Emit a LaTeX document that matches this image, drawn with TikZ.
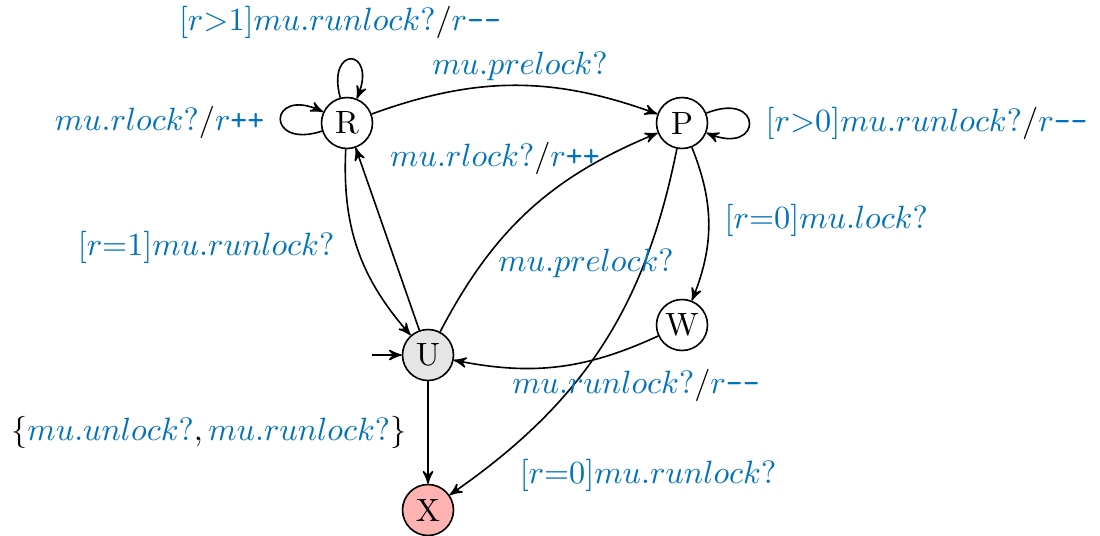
\documentclass[tikz,border=0pt]{standalone}
\usetikzlibrary{automata,arrows}
\definecolor{lblue}{RGB}{0,114,189}
\newcommand{\bl}[1]{\textcolor{lblue}{#1}}
\newcommand{\dec}{\bl{$r$\texttt{-{}-}}}
\newcommand{\inc}{\bl{$r$\texttt{++}}}
\begin{document}
\begin{tikzpicture}[x=0.31pt,y=-0.31pt,>=stealth',
  st/.style={circle,draw,minimum size=15.8pt,inner sep=0pt,line width=0.5pt},
  lbl/.style={inner sep=0pt},
  tr/.style={->,line width=0.5pt},
  selfloop/.style={looseness=8,min distance=17pt}]
\useasboundingbox (0,0) rectangle (1100,535);

% states
\node[st] (R) at (347,123) {R};
\node[st] (P) at (682,123) {P};
\node[st,fill=black!10] (U) at (428,355) {U};
\node[st] (W) at (682,325) {W};
\node[st,fill=red!30] (X) at (428,510) {X};
\coordinate (init) at (372,355);

% transitions
\draw[tr] (init) -- (U);
\draw[tr] (R) to[selfloop,out=105,in=68] (R);
\draw[tr] (R) to[selfloop,out=198,in=155] (R);
\draw[tr] (P) to[selfloop,out=22,in=-22] (P);
\draw[tr] (R) to[bend left=20] (P);
\draw[tr] (U) -- (R);
\draw[tr] (R) to[bend right=22] (U);
\draw[tr] (U) to[bend left=20] (P);
\draw[tr] (P) to[bend left=22] (W);
\draw[tr] (W) to[bend left=18] (U);
\draw[tr] (P) to[bend left=22] (X);
\draw[tr] (U) -- (X);

% labels
\node[lbl] (l1) at (340,22) {\bl{$[r{>}1]mu.runlock?$}/\dec};
\node[lbl] (l2) at (520,66) {\bl{$mu.prelock?$}};
\node[lbl,anchor=east] (l3) at (265,122) {\bl{$mu.rlock?$}/\inc};
\node[lbl,anchor=west] (l4) at (765,123) {\bl{$[r{>}0]mu.runlock?$}/\dec};
\node[lbl] (l5) at (495,158) {\bl{$mu.rlock?$}/\inc};
\node[lbl,anchor=west] (l6) at (724,220) {\bl{$[r{=}0]mu.lock?$}};
\node[lbl,anchor=east] (l7) at (335,247) {\bl{$[r{=}1]mu.runlock?$}};
\node[lbl] (l8) at (586,263) {\bl{$mu.prelock?$}};
\node[lbl] (l9) at (636,385) {\bl{$mu.runlock?$}/\dec};
\node[lbl,anchor=east] (l10) at (407,432) {$\{\textcolor{lblue}{mu.unlock?},\textcolor{lblue}{mu.runlock?}\}$};
\node[lbl] (l11) at (648,475) {\bl{$[r{=}0]mu.runlock?$}};
\end{tikzpicture}
\end{document}
